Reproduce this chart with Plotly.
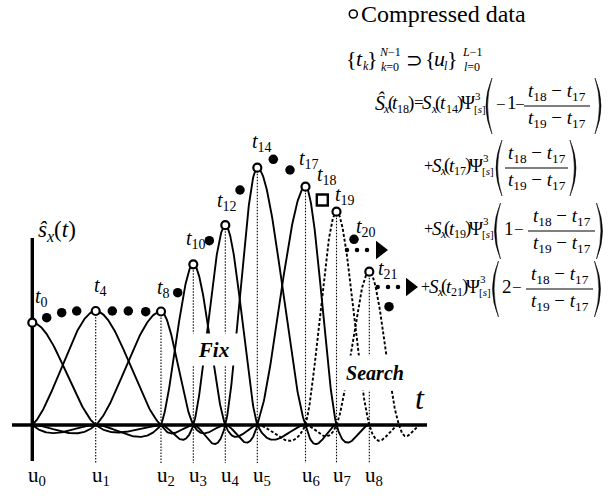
import numpy as np
import plotly.graph_objects as go

W, H = 610, 496
SERIF = "Liberation Serif"

# ---------------- data ----------------
# sample times t_0 .. t_22 and the signal value at each sample
sample_time = [0.0, 1.44, 2.94, 4.44, 6.34, 8.0, 9.6, 11.34, 12.87, 14.54, 16.1,
               17.7, 19.3, 20.77, 22.5, 24.1, 25.77, 27.32, 29.0, 30.42, 32.17, 33.7, 35.67]
sample_value = [1.023, 1.073, 1.123, 1.14, 1.14, 1.14, 1.14, 1.133, 1.135, 1.323, 1.607,
                1.843, 1.998, 2.35, 2.573, 2.657, 2.55, 2.383, 2.25, 2.133, 1.857, 1.533, 1.183]
# samples kept as compressed data -> knots u_0 .. u_8
compressed_index = [0, 4, 8, 10, 12, 14, 17, 19, 21]
estimated_index = 18          # sample being reconstructed (square)
fixed_count = 7               # u_0..u_6 fixed, u_7, u_8 under search
labelled_index = [0, 4, 8, 10, 12, 14, 17, 18, 19, 20, 21]
# knots outside the sampled range (only needed for the kernel support)
knots_before = [-12.68, -6.34]   # u_-2, u_-1
knots_after = [36.67, 38.77]     # u_9, u_10
virtual_amplitude = 1.1          # boundary kernel at u_-1
knot_labels = ["u<sub>%d</sub>" % l for l in range(len(compressed_index))]
# "search" arrows
arrow_level = [1.75, 1.38]
arrow_dots = [[31.47, 32.47, 33.47], [34.54, 35.57, 36.57]]
arrow_head = [34.77, 37.77]

# ---------------- scales ----------------
X0PX, XS, Y0PX, YS = 32.3, 10.0, 425.0, 100.0
x_range = [-X0PX / XS, (W - X0PX) / XS]
y_range = [(Y0PX - H) / YS, Y0PX / YS]
guide_floor = -0.38
axis_x_extent = [-2.03, 39.47]
axis_y_extent = [-0.36, 1.87]

fig = go.Figure()


def keys_kernel(d, a=-0.5):
    d = np.abs(d)
    return np.where(d < 1, (a + 2) * d ** 3 - (a + 3) * d ** 2 + 1,
                    np.where(d < 2, a * d ** 3 - 5 * a * d ** 2 + 8 * a * d - 4 * a, 0.0))


U = knots_before + [sample_time[i] for i in compressed_index] + knots_after
AMP = [None, virtual_amplitude] + [sample_value[i] for i in compressed_index]
origin = U[2]
for j in range(1, len(AMP)):
    xs, ys = [], []
    for s in (-2, -1, 0, 1):
        a_i, b_i = j + s, j + s + 1
        if a_i < 0 or b_i >= len(U):
            continue
        lo, hi = U[a_i], U[b_i]
        if hi <= origin:
            continue
        f = np.linspace(0, 1, 90)
        t = lo + f * (hi - lo)
        keep = t >= origin
        xs.extend(t[keep].tolist())
        ys.extend((AMP[j] * keys_kernel(s + f[keep])).tolist())
    l = j - 2
    dotted = l >= fixed_count
    fig.add_trace(go.Scatter(x=xs, y=ys, mode="lines",
                             line=dict(color="black", width=1.9,
                                       dash="3px,2px" if dotted else "solid"),
                             hoverinfo="skip"))

# dotted guides from each knot down below the axis
gx, gy = [], []
for i in compressed_index[1:]:
    gx += [sample_time[i], sample_time[i], None]
    gy += [sample_value[i], guide_floor, None]
fig.add_trace(go.Scatter(x=gx, y=gy, mode="lines",
                         line=dict(color="black", width=1.1, dash="1.5px,1.5px"),
                         hoverinfo="skip"))

# filled (discarded) samples
other = [k for k in range(len(sample_time)) if k not in compressed_index and k != estimated_index]
fig.add_trace(go.Scatter(x=[sample_time[k] for k in other], y=[sample_value[k] for k in other],
                         mode="markers", marker=dict(symbol="circle", size=9.5, color="black"),
                         hoverinfo="skip"))
# compressed samples
fig.add_trace(go.Scatter(x=[sample_time[k] for k in compressed_index],
                         y=[sample_value[k] for k in compressed_index],
                         mode="markers",
                         marker=dict(symbol="circle", size=8, color="white",
                                     line=dict(color="black", width=2.2)),
                         hoverinfo="skip"))
# estimated sample
fig.add_trace(go.Scatter(x=[sample_time[estimated_index]], y=[sample_value[estimated_index]],
                         mode="markers",
                         marker=dict(symbol="square", size=11, color="white",
                                     line=dict(color="black", width=2.4)),
                         hoverinfo="skip"))
# search arrows
for lev, dots, head in zip(arrow_level, arrow_dots, arrow_head):
    fig.add_trace(go.Scatter(x=dots, y=[lev] * len(dots), mode="markers",
                             marker=dict(size=4.5, color="black"), hoverinfo="skip"))
    fig.add_trace(go.Scatter(x=[head], y=[lev], mode="markers",
                             marker=dict(symbol="triangle-right", size=16, color="black"),
                             hoverinfo="skip"))

# axes
fig.add_shape(type="line", xref="x", yref="y", x0=axis_x_extent[0], x1=axis_x_extent[1], y0=0, y1=0,
              line=dict(color="black", width=3.4), layer="below")
fig.add_shape(type="line", xref="x", yref="y", x0=0, x1=0, y0=axis_y_extent[0], y1=axis_y_extent[1],
              line=dict(color="black", width=3.4), layer="below")

# sample labels
label_offset = {0: (0.7, 25.7), 4: (-3.3, 25), 8: (-6, 23.5), 10: (-9.3, 25.3), 12: (-10.3, 24),
                14: (-7.3, 25.7), 17: (-8.3, 27.7), 18: (-7.3, 25), 19: (-4, 16.7), 20: (0, 12.3),
                21: (6.7, 2)}
for k in labelled_index:
    dx, dy = label_offset[k]
    fig.add_annotation(x=sample_time[k], y=sample_value[k], xref="x", yref="y",
                       text="<i>t</i><sub>%d</sub>" % k, showarrow=False,
                       xanchor="left", yanchor="middle", xshift=dx, yshift=dy,
                       font=dict(family=SERIF, size=20, color="black"))
# knot labels
for l, i in enumerate(compressed_index):
    fig.add_annotation(x=sample_time[i], y=0, xref="x", yref="y", text=knot_labels[l],
                       showarrow=False, xanchor="left", yanchor="middle", xshift=-6, yshift=-51,
                       font=dict(family=SERIF, size=21, color="black"))


def ptxt(text, px, py, size, xanchor="center", yanchor="middle", **kw):
    kw.setdefault("borderpad", 0)
    fig.add_annotation(text=text, x=px / W, y=1 - py / H, xref="paper", yref="paper",
                       showarrow=False, xanchor=xanchor, yanchor=yanchor,
                       font=dict(family=SERIF, size=size, color="black"), **kw)


def P(x, y):
    return "%.5f,%.5f" % (x / W, 1 - y / H)


def pline(x0, y0, x1, y1, w=1.2):
    fig.add_shape(type="line", xref="paper", yref="paper", x0=x0 / W, y0=1 - y0 / H,
                  x1=x1 / W, y1=1 - y1 / H, line=dict(color="black", width=w))


def paren(xc, top, bot, opening=True, bulge=6.0, thick=1.6):
    mid = (top + bot) / 2
    sgn = -1 if opening else 1
    tip = xc - sgn * bulge / 2
    outer = xc + sgn * bulge / 2
    inner = outer - sgn * thick
    c_out = 2 * outer - tip
    c_in = 2 * inner - tip
    path = "M %s Q %s %s Q %s %s Z" % (P(tip, top), P(c_out, mid), P(tip, bot), P(c_in, mid), P(tip, top))
    fig.add_shape(type="path", xref="paper", yref="paper", path=path,
                  fillcolor="black", line=dict(color="black", width=0.5))


def frac(x0, x1, bar):
    cx = (x0 + x1) / 2
    ptxt("<i>t</i><sub>18</sub> − <i>t</i><sub>17</sub>", cx, bar - 14, 19)
    pline(x0, bar, x1, bar, 1.1)
    ptxt("<i>t</i><sub>19</sub> − <i>t</i><sub>17</sub>", cx, bar + 13, 19)


# axis labels / tags
ptxt("<i>ŝ</i><sub><i>x</i></sub>(<i>t</i>)", 57, 231, 23)
ptxt("<i>t</i>", 420, 398, 32)
ptxt("<b><i>Fix</i></b>", 213.5, 349.5, 21, bgcolor="white", width=55, height=31)
ptxt("<b><i>Search</i></b>", 375, 373, 20, bgcolor="white", width=66, height=34)

# legend-like caption
fig.add_shape(type="circle", xref="paper", yref="paper", x0=349.3 / W, x1=357.3 / W,
              y0=1 - 18 / H, y1=1 - 10 / H, line=dict(color="black", width=1.6))
ptxt("Compressed data", 360, 14, 24, xanchor="left")

# set relation
for tx, x, y, s in [("{", 351.5, 59, 22), ("<i>t</i>", 359.5, 59, 22), ("<i>k</i>", 366, 66, 12),
                    ("}", 372.5, 59, 22), ("<i>N</i>−1", 390, 52, 12), ("<i>k</i>=0", 390, 67, 12),
                    ("⊃", 414, 60, 20), ("{", 430, 59, 22), ("<i>u</i>", 439.5, 59, 22),
                    ("<i>l</i>", 446, 66, 12), ("}", 452.5, 59, 22), ("<i>L</i>−1", 472, 52, 12),
                    ("<i>l</i>=0", 472, 67, 12)]:
    ptxt(tx, x, y, s)

# first line of the formula
for tx, x, y, s in [("<i>Ŝ</i>", 379.5, 102, 20), ("<i>x</i>", 386.5, 109, 12), ("(", 390.5, 103, 19),
                    ("<i>t</i>", 395, 103, 19), ("18", 402.5, 109, 12), (")", 411, 103, 19),
                    ("=", 418.5, 103, 17), ("<i>S</i>", 427.5, 103, 19), ("<i>x</i>", 434, 109, 12),
                    ("(", 438, 103, 19), ("<i>t</i>", 443, 103, 19), ("14", 451.5, 109, 12),
                    (")", 460, 103, 19), ("Ψ", 468, 103, 19), ("3", 477.5, 96, 11),
                    ("[<i>s</i>]", 480, 109, 11), ("−", 501, 104, 17), ("1", 511.5, 103, 19),
                    ("−", 520, 104, 17)]:
    ptxt(tx, x, y, s)
paren(489, 78, 134, True)
paren(598, 78, 134, False)
frac(524, 590, 106)


def term(x0, yc, sub, lp, rp, fx0, fx1, lead=None):
    for tx, x, y, s in [("+", x0 - 2, yc, 16), ("<i>S</i>", x0 + 7, yc, 19), ("<i>x</i>", x0 + 13.5, yc + 6, 12),
                        ("(", x0 + 17, yc, 19), ("<i>t</i>", x0 + 21.5, yc, 19), (sub, x0 + 29.5, yc + 6, 12),
                        (")", x0 + 37.5, yc, 19), ("Ψ", x0 + 45.5, yc, 19), ("3", x0 + 55.5, yc - 7, 11),
                        ("[<i>s</i>]", x0 + 58, yc + 6, 11)]:
        ptxt(tx, x, y, s)
    bar = yc + 3
    paren(lp, bar - 28, bar + 28, True)
    paren(rp, bar - 28, bar + 28, False)
    if lead:
        ptxt(lead, lp + 11, yc, 19)
        ptxt("−", lp + 21.5, yc + 1, 17)
    frac(fx0, fx1, bar)


term(430, 165, "17", 499, 573, 505, 568)
term(430, 228, "19", 497.5, 599.5, 528, 595, lead="1")
term(427, 286, "21", 495.5, 597.5, 526, 593, lead="2")

fig.update_layout(width=W, height=H, margin=dict(l=0, r=0, t=0, b=0),
                  paper_bgcolor="white", plot_bgcolor="white", showlegend=False,
                  hovermode=False,
                  xaxis=dict(visible=False, range=x_range, fixedrange=True),
                  yaxis=dict(visible=False, range=y_range, fixedrange=True))
fig.write_html("out.html", config={"displayModeBar": False},
               post_script="document.body.style.margin='0px';document.body.style.overflow='hidden';")
